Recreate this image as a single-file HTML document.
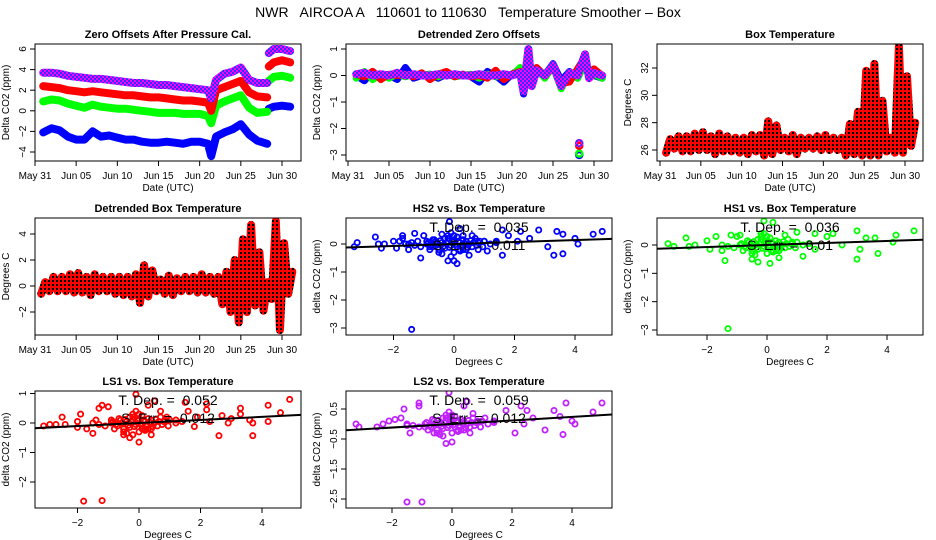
<!DOCTYPE html>
<html><head><meta charset="utf-8">
<style>
html,body{margin:0;padding:0;background:#fff;}
svg{display:block;font-family:"Liberation Sans",sans-serif;}
</style></head>
<body>
<svg id="c" width="936" height="540" viewBox="0 0 936 540" xmlns="http://www.w3.org/2000/svg">
<defs>
<pattern id="patPurple" width="4" height="4" patternUnits="userSpaceOnUse"><rect width="4" height="4" fill="#ff00ff"/><rect width="2" height="2" fill="#3030ff"/><rect x="2" y="2" width="2" height="2" fill="#3030ff"/></pattern>
<pattern id="patRed" width="4" height="4" patternUnits="userSpaceOnUse"><rect width="4" height="4" fill="#ff0000"/><rect width="2" height="2" fill="#000"/></pattern>
</defs>
<text x="468" y="17" font-size="14" text-anchor="middle" style="white-space:pre" xml:space="preserve">NWR   AIRCOA A   110601 to 110630   Temperature Smoother – Box</text>
</svg>
<script>
// ---------- DATA ----------
const dateTickVals = [0,5,10,15,20,25,30];
const dateTickLabels = ["May 31","Jun 05","Jun 10","Jun 15","Jun 20","Jun 25","Jun 30"];
const zoDays = [1,2,3,4,5,6,7,8,9,10,11,12,13,14,15,16,17,18,19,20,21,21.4,22,23,24,25,26,27,28.2];
const zoDaysLate = [28.4,29,30,31];
const zoPurple = [3.7,3.7,3.6,3.4,3.3,3.2,3.1,3.1,3.0,2.9,2.8,2.7,2.7,2.6,2.5,2.5,2.4,2.3,2.2,2.1,2.0,1.2,3.0,3.6,3.8,4.2,3.0,2.7,2.7];
const zoPurpleLate = [5.6,6.0,6.0,5.8];
const zoRed = [2.4,2.3,2.2,2.0,1.9,1.8,1.9,1.8,1.7,1.6,1.5,1.5,1.4,1.3,1.3,1.2,1.1,1.0,1.0,0.9,0.8,0.0,2.0,2.3,2.6,2.9,1.8,1.4,1.3];
const zoRedLate = [4.3,4.7,4.9,4.7];
const zoGreen = [0.9,1.1,1.0,0.7,0.5,0.3,0.6,0.4,0.3,0.2,0.2,0.1,0.0,-0.1,-0.2,-0.2,-0.2,-0.3,-0.3,-0.3,-0.5,-1.2,0.5,0.9,1.2,1.5,0.3,-0.2,-0.1];
const zoGreenLate = [2.9,3.3,3.4,3.2];
const zoBlue = [-2.1,-1.7,-1.9,-2.5,-2.8,-2.8,-2.0,-2.5,-2.4,-2.6,-2.8,-2.8,-3.0,-3.1,-3.1,-3.0,-3.1,-3.2,-3.0,-3.0,-3.2,-4.4,-2.5,-2.1,-1.8,-1.3,-2.3,-2.9,-3.2];
const zoBlueLate = [0.2,0.4,0.5,0.4];

const detDays = [1,2,3,4,5,6,7,8,9,10,11,12,13,14,15,16,17,18,19,20,21,21.4,22,22.4,23,24,25,26,27,28,28.9,29.4,30,31];
const detBlue = [0,-0.2,0.15,-0.1,0,-0.15,0.3,-0.1,0,0.05,-0.1,0.05,0,0.05,-0.05,-0.25,0.15,0,-0.25,0.05,0.25,-0.7,0.2,-0.2,0.1,0,0.45,-0.2,0.15,-0.1,0.5,0,0,-0.1];
const detGreen = [-0.1,0.15,-0.15,0.05,-0.1,0.05,-0.05,0.05,0,0.05,-0.05,0.05,-0.05,0,0.05,-0.1,0.05,-0.05,0.05,0,0.3,-0.5,0.8,-0.3,0.25,-0.1,0.35,-0.5,0.1,-0.1,0.45,-0.1,0.05,-0.1];
const detRed = [0.05,-0.05,0.15,-0.15,0.05,0,0.05,-0.05,0.1,-0.15,0.05,0.15,-0.05,0.05,-0.05,0,-0.1,0.2,-0.15,0.05,0.15,-0.5,0.9,-0.4,0.3,0,0.3,-0.3,-0.25,0.25,0.7,-0.1,0.25,0];
const detPurple = [0.05,0.1,0,0.05,0,0.1,0,0.05,0,0,0.05,0,0.05,0,0,0.05,0,0,0.05,0,0.1,-0.6,1.0,-0.4,0.2,0,0.4,-0.4,0.1,0,0.8,-0.1,0.1,0];
const detOutlierVals = [-3.0,-2.95,-2.65,-2.55];
const detOutlierDay = 28.2;

const tempDays = [1,2,3,4,5,6,7,8,9,10,11,12,13,14,15,16,17,18,19,20,21,22,23,24,25,26,27,28,29,30,31];
const tempMax = [26.8,27.0,27.0,27.2,27.3,27.0,27.2,27.0,26.9,26.9,27.1,27.1,28.1,27.8,26.9,27.1,26.9,26.9,27.0,27.1,26.9,26.9,27.9,28.8,31.8,32.3,29.6,26.9,33.6,31.4,28.0];
const tempMin = [25.8,26.1,25.9,25.9,26.0,26.0,25.7,25.9,25.9,25.8,25.7,25.9,25.6,25.7,26.0,25.9,25.7,26.1,26.1,26.0,26.0,26.0,25.6,25.7,25.6,25.6,25.6,25.9,25.8,25.8,26.3];
const dtMax = [0.3,0.7,0.7,0.9,1.0,0.7,0.9,0.7,0.7,0.7,0.7,0.9,1.6,1.2,0.5,0.8,0.6,0.7,0.7,0.9,0.7,0.7,1.1,2.0,3.6,4.7,2.6,0.3,5.0,3.3,1.1];
const dtMin = [-0.6,-0.4,-0.4,-0.4,-0.5,-0.5,-0.7,-0.4,-0.4,-0.6,-0.7,-0.8,-1.3,-0.8,-0.4,-0.6,-0.7,-0.4,-0.4,-0.5,-0.5,-0.6,-1.4,-2.0,-2.8,-2.0,-1.5,-1.9,-1.0,-3.4,-0.6];

const clusterX = [-0.6,-0.5,-0.4,-0.3,-0.2,-0.1,0,0.1,0.2,0.3,0.4,0.5,-0.7,-0.2,0.1,0,-0.4,0.3,0.6,-0.1,-0.9,0.8,-1.1,1.0,-0.3,0.2,
  -0.55,-0.45,-0.35,-0.25,-0.15,-0.05,0.05,0.15,0.25,0.35,0.45,0.55,0.65,0.75,-0.65,-0.75,-0.85,0.85,0.95,1.2,-1.3,-1.5,1.4,-0.5,0,0.4,-0.2,0.2,-0.8,0.7];
const clusterY = [0.1,-0.2,0.05,-0.15,0.1,-0.05,0.15,-0.1,0.05,-0.2,0.1,0,-0.1,0.3,0.25,-0.3,-0.35,0.15,-0.1,0.4,0,0.05,-0.1,0.1,0.2,-0.25,
  0,0.12,-0.08,0.04,-0.12,0.08,-0.02,0.1,-0.06,0.02,-0.12,0.12,0.05,-0.05,0.15,-0.05,0.05,0.1,-0.1,0,-0.05,0,0.05,-0.3,0.3,-0.2,0.2,-0.2,-0.2,0.2];

const hs2X = [-3.3,-3.2,-2.6,-2.5,-2.4,-2.3,-2,-1.9,-1.8,-1.7,-1.7,-1.6,-1.5,-1.4,-1.3,-1.2,-1.1,-1.0,-0.9,-0.8,-0.7,-0.4,-0.3,-0.2,-0.15,-0.1,0,0.1,0.2,0.3,0.5,0.6,0.7,0.8,1.0,1.1,1.4,1.6,1.6,1.8,2.1,2.2,2.5,2.8,3.1,3.3,3.4,3.6,3.6,4.0,4.1,4.6,4.9,-1.4];
const hs2Y = [-0.1,0.05,0.25,0,-0.15,0,0.1,-0.15,0.1,0.3,0.2,0,-0.2,0.05,0.38,0.1,-0.5,0.3,0.1,-0.1,0.15,0.35,0.2,-0.6,0.8,-0.45,-0.6,-0.7,0.55,0.3,-0.4,0.3,0.1,-0.2,0.1,-0.25,0.1,0.5,-0.4,0.3,0.1,0.45,0.2,0.5,-0.1,-0.4,0.45,0.35,-0.35,0.2,0,0.35,0.45,-3.05];
const hs1X = [-3.3,-3.1,-2.7,-2.6,-2.4,-2,-1.9,-1.7,-1.5,-1.4,-1.2,-1,-0.9,-0.5,-0.3,-0.2,-0.1,0.1,0.2,0.4,0.6,1,1.2,1.4,1.6,1.6,2,2.2,2.5,3,3,3.1,3.3,3.6,3.7,4.2,4.3,4.9,-1.3];
const hs1Y = [0.05,-0.05,0.25,-0.05,0,0.15,-0.15,0.3,-0.2,-0.55,0.35,0.3,0.35,-0.5,-0.6,0.4,0.85,-0.65,0.8,-0.45,0.35,0.45,-0.4,0.05,0.4,-0.15,0.3,0.4,0,0.5,-0.5,-0.15,0.25,0.25,-0.3,0.1,0.35,0.5,-2.95];
const ls1X = [-3.1,-2.9,-2.7,-2.5,-2.4,-2,-2,-1.9,-1.7,-1.5,-1.4,-1.3,-1.2,-1,-0.9,-0.5,-0.3,-0.2,-0.1,0,0.1,0.3,0.4,0.5,0.7,0.9,1.2,1.5,1.6,1.8,1.9,2.2,2.2,2.3,2.6,2.7,2.9,3.0,3.3,3.3,3.6,3.7,3.7,4.2,4.2,4.6,4.9,-1.8,-1.2];
const ls1Y = [-0.1,-0.05,-0.05,0.2,-0.05,0.05,-0.15,0.3,-0.2,-0.35,0.1,0.5,0.6,0.55,0.1,-0.4,-0.5,-0.4,0.97,-0.65,-0.2,0.6,-0.4,0.75,0.4,0.2,0.1,0.7,0.4,-0.12,0.2,0.45,0.65,0.05,-0.43,0.25,0,0.15,0.5,0.3,0.1,-0.43,0,0.6,0.05,0.35,0.8,-2.65,-2.63];
const ls2X = [-3.2,-3.1,-2.5,-2.3,-2.1,-1.9,-1.7,-1.6,-1.5,-1.4,-1.1,-1.1,-0.9,-0.6,-0.3,-0.2,-0.1,0,0.4,0.5,0.6,0.7,1.1,1.4,1.8,2.1,2.3,2.5,2.4,2.7,3.1,3.4,3.6,3.7,3.8,4,4.1,4.7,5,-1.5,-1];
const ls2Y = [0,-0.1,-0.1,0,0.1,0.15,0.2,0.5,-0.05,-0.3,0.7,0.6,-0.1,-0.3,-0.4,-0.65,1.05,-0.6,0.6,0.75,-0.3,0.35,0.2,0.1,0.45,-0.3,0.6,0.45,0,0.2,-0.2,0.45,0.25,-0.35,0.7,0.1,0,0.4,0.7,-2.6,-2.6];

const slopes = {hs2:0.035, hs1:0.036, ls1:0.052, ls2:0.059};
const errLabels = {hs2:"0.011", hs1:"0.01", ls1:"0.012", ls2:"0.012"};

// ---------- DRAWING ----------
const svg = document.getElementById('c');
const NS = 'http://www.w3.org/2000/svg';
function mk(tag, attrs, parent){
  const e = document.createElementNS(NS, tag);
  for (const k in attrs) e.setAttribute(k, attrs[k]);
  (parent||svg).appendChild(e);
  return e;
}
function scale(v0,p0,v1,p1){ return v => p0 + (v-v0)*(p1-p0)/(v1-v0); }

function makePanel(name, box, sx, sy, title, xTicks, xLabels, yTicks, yLabels, xTitle, yTitle){
  const g = mk('g', {});
  
  
  const [l,t,r,b] = box;
  const clip = mk('clipPath', {id:'clip-'+name}, g);
  mk('rect', {x:l, y:t, width:r-l, height:b-t}, clip);
  const plot = mk('g', {'clip-path':'url(#clip-'+name+')'}, g);
  
  
  const frame = mk('rect', {x:l, y:t, width:r-l, height:b-t, fill:'none', stroke:'#000', 'stroke-width':1}, g);
  
  
  const tt = mk('text', {x:(l+r)/2, y:t-6, 'font-size':11, 'font-weight':'bold', 'text-anchor':'middle'}, g);
  tt.textContent = title;
  
  
  const xa = mk('g', {}, g);
  
  
  xTicks.forEach((v,i) => {
    const x = sx(v);
    mk('line', {x1:x, y1:b, x2:x, y2:b+5, stroke:'#000'}, xa);
    const tx = mk('text', {x:x, y:b+18, 'font-size':10, 'text-anchor':'middle'}, xa);
    tx.textContent = xLabels[i];
    
    
  });
  const xt = mk('text', {x:(l+r)/2, y:b+30, 'font-size':10, 'text-anchor':'middle'}, g);
  xt.textContent = xTitle;
  
  
  const ya = mk('g', {}, g);
  
  
  yTicks.forEach((v,i) => {
    const y = sy(v);
    mk('line', {x1:l-5, y1:y, x2:l, y2:y, stroke:'#000'}, ya);
    const ty = mk('text', {x:l-9, y:y, 'font-size':10, 'text-anchor':'middle', transform:`rotate(-90 ${l-9} ${y})`}, ya);
    ty.textContent = yLabels[i];
    
    
  });
  const yx = l-26, yy = (t+b)/2;
  const yt = mk('text', {x:yx, y:yy, 'font-size':10, 'text-anchor':'middle', transform:`rotate(-90 ${yx} ${yy})`}, g);
  yt.textContent = yTitle;
  
  
  return plot;
}
function poly(parent, xs, ys, sx, sy, stroke, w, name){
  const pts = xs.map((x,i) => sx(x).toFixed(1)+','+sy(ys[i]).toFixed(1)).join(' ');
  const p = mk('polyline', {points:pts, fill:'none', stroke:stroke, 'stroke-width':w, 'stroke-linejoin':'round', 'stroke-linecap':'round'}, parent);
  
  
  return p;
}
function pts(parent, xs, ys, sx, sy, stroke, name){
  xs.forEach((x,i) => {
    const c = mk('circle', {cx:sx(x), cy:sy(ys[i]), r:2.6, fill:'none', stroke:stroke, 'stroke-width':1.8}, parent);
    
    
  });
}

const cols = [35, 346, 657], W = 266;
const rows = [44, 218, 391], H = 117;
function box(ci, ri){ return [cols[ci], rows[ri], cols[ci]+W, rows[ri]+H]; }

// Panel 1: Zero offsets
{
  const bx = box(0,0);
  const sx = scale(0,35,30,282), sy = scale(6,49,-4,152);
  const p = makePanel('zero-offsets-panel', bx, sx, sy, 'Zero Offsets After Pressure Cal.', dateTickVals, dateTickLabels, [-4,-2,0,2,4,6], ['−4','−2','0','2','4','6'], 'Date (UTC)', 'Delta CO2  (ppm)');
  poly(p, zoDays, zoBlue, sx, sy, '#0000ff', 8, 'series-blue');
  poly(p, zoDaysLate, zoBlueLate, sx, sy, '#0000ff', 8, 'series-blue-late');
  poly(p, zoDays, zoGreen, sx, sy, '#00ff00', 8, 'series-green');
  poly(p, zoDaysLate, zoGreenLate, sx, sy, '#00ff00', 8, 'series-green-late');
  poly(p, zoDays, zoRed, sx, sy, '#ff0000', 8, 'series-red');
  poly(p, zoDaysLate, zoRedLate, sx, sy, '#ff0000', 8, 'series-red-late');
  poly(p, zoDays, zoPurple, sx, sy, 'url(#patPurple)', 8, 'series-purple');
  poly(p, zoDaysLate, zoPurpleLate, sx, sy, 'url(#patPurple)', 8, 'series-purple-late');
}
// Panel 2: Detrended zero offsets
{
  const bx = box(1,0);
  const sx = scale(0,348,30,594), sy = scale(1,49,-3,155);
  const p = makePanel('detrended-offsets-panel', bx, sx, sy, 'Detrended Zero Offsets', dateTickVals, dateTickLabels, [-3,-2,-1,0,1], ['−3','−2','−1','0','1'], 'Date (UTC)', 'Delta CO2  (ppm)');
  poly(p, detDays, detBlue, sx, sy, '#0000ff', 7, 'series-blue');
  poly(p, detDays, detGreen, sx, sy, '#00ff00', 7, 'series-green');
  poly(p, detDays, detRed, sx, sy, '#ff0000', 7, 'series-red');
  poly(p, detDays, detPurple, sx, sy, 'url(#patPurple)', 8, 'series-purple');
  const oc = ['#0000ff','#00ff00','#ff0000','url(#patPurple)'];
  detOutlierVals.forEach((v,i) => {
    const c = mk('circle', {cx:sx(detOutlierDay), cy:sy(v), r:3, fill:'none', stroke:oc[i], 'stroke-width':2.5}, p);
    
    
  });
}
function zig(days, mn, mx){
  const xs = [], ys = [];
  days.forEach((d,i) => { xs.push(d-0.25); ys.push(mn[i]); xs.push(d+0.25); ys.push(mx[i]); });
  return [xs, ys];
}
// Panel 3: Box temperature
{
  const bx = box(2,0);
  const sx = scale(0,660,30,905), sy = scale(26,150,32,68);
  const p = makePanel('box-temperature-panel', bx, sx, sy, 'Box Temperature', dateTickVals, dateTickLabels, [26,28,30,32], ['26','28','30','32'], 'Date (UTC)', 'Degrees C');
  const [xs, ys] = zig(tempDays, tempMin, tempMax);
  poly(p, xs, ys, sx, sy, 'url(#patRed)', 8, 'series-box-temp');
}
// Panel 4: Detrended box temperature
{
  const bx = box(0,1);
  const sx = scale(0,35,30,282), sy = scale(4,234,-2,312);
  const p = makePanel('detrended-temp-panel', bx, sx, sy, 'Detrended Box Temperature', dateTickVals, dateTickLabels, [-2,0,2,4], ['−2','0','2','4'], 'Date (UTC)', 'Degrees C');
  const [xs, ys] = zig(tempDays, dtMin, dtMax);
  poly(p, xs, ys, sx, sy, 'url(#patRed)', 8, 'series-detrended-temp');
}
function scatterPanel(name, ci, ri, title, sx, sy, yT, yL, xs, ys, color, key){
  const bx = box(ci, ri);
  const p = makePanel(name, bx, sx, sy, title, [-2,0,2,4], ['−2','0','2','4'], yT, yL, 'Degrees C', 'delta CO2 (ppm)');
  pts(p, clusterX, clusterY, sx, sy, color, 'cluster-point');
  pts(p, xs, ys, sx, sy, color, 'scatter-point');
  const x0 = -4, x1 = 6;
  const ln = mk('line', {x1:sx(x0), y1:sy(slopes[key]*x0), x2:sx(x1), y2:sy(slopes[key]*x1), stroke:'#000', 'stroke-width':2}, p);
  
  
  const cx = (bx[0]+bx[2])/2;
  const t1 = mk('text', {x:cx, y:bx[1]+14, 'font-size':14, 'text-anchor':'middle', style:'white-space:pre'});
  t1.textContent = 'T. Dep. =  ' + slopes[key].toFixed(3);
  
  
  const t2 = mk('text', {x:cx, y:bx[1]+32, 'font-size':14, 'text-anchor':'middle', style:'white-space:pre'});
  t2.textContent = 'S. Err. =  ' + errLabels[key];
  
  
}
scatterPanel('hs2-scatter-panel', 1, 1, 'HS2 vs. Box Temperature', scale(0,454,4,575), scale(0,244,-3,328), [-3,-2,-1,0], ['−3','−2','−1','0'], hs2X, hs2Y, '#0000ff', 'hs2');
scatterPanel('hs1-scatter-panel', 2, 1, 'HS1 vs. Box Temperature', scale(0,767,4,887), scale(0,245,-3,330), [-3,-2,-1,0], ['−3','−2','−1','0'], hs1X, hs1Y, '#00ff00', 'hs1');
scatterPanel('ls1-scatter-panel', 0, 2, 'LS1 vs. Box Temperature', scale(0,139,4,262), scale(0,423,-2,482), [-2,-1,0,1], ['−2','−1','0','1'], ls1X, ls1Y, '#ff0000', 'ls1');
scatterPanel('ls2-scatter-panel', 1, 2, 'LS2 vs. Box Temperature', scale(0,452,4,572), scale(0.5,409,-2.5,499), [-2.5,-1.5,-0.5,0.5], ['−2.5','−1.5','−0.5','0.5'], ls2X, ls2Y, '#c020ff', 'ls2');
</script>
</body></html>
